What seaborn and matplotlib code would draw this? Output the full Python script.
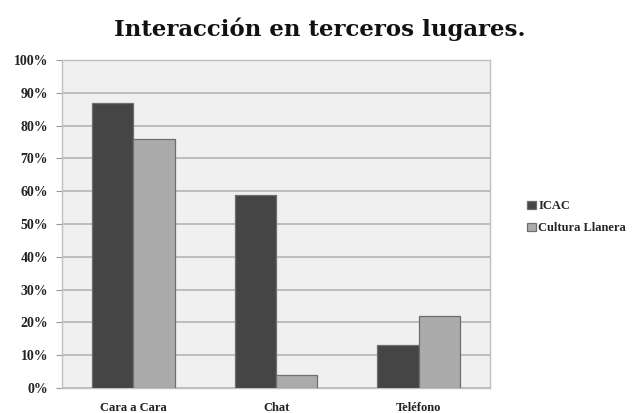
import numpy as np
import pandas as pd
import matplotlib
matplotlib.use("Agg")
import matplotlib.pyplot as plt
import seaborn as sns

categories = ["Cara a Cara", "Chat", "Teléfono"]
icac = [87, 59, 13]
cultura = [76, 4, 22]
series = ["ICAC", "Cultura Llanera"]
yticks = [0, 10, 20, 30, 40, 50, 60, 70, 80, 90, 100]

df = pd.DataFrame({
    "cat": categories * 2,
    "val": icac + cultura,
    "serie": [series[0]] * 3 + [series[1]] * 3,
})

sns.set_style("white")
plt.rcParams["font.family"] = ["Liberation Serif", "DejaVu Serif"]

fig = plt.figure(figsize=(6.34, 4.13), dpi=100)
ax = fig.add_axes([0.098, 0.0605, 0.675, 0.794])
ax.set_facecolor("#f0f0f0")

sns.barplot(data=df, x="cat", y="val", hue="serie", ax=ax,
            palette=["#454545", "#ababab"], width=0.58,
            edgecolor="#6e6e6e", linewidth=0.9, saturation=1, zorder=3)

ax.set_ylim(0, 100)
ax.set_yticks(yticks)
ax.set_yticklabels([f"{t}%" for t in yticks], fontsize=10, fontweight="bold", color="#222222")
ax.tick_params(axis="x", labelsize=9, length=0, pad=10)
for lab in ax.get_xticklabels():
    lab.set_fontweight("bold")
    lab.set_color("#222222")
ax.tick_params(axis="y", length=4, width=0.8, color="#999999", direction="out", left=True, pad=6)
ax.yaxis.grid(True, color="#b5b5b5", linewidth=1.2, zorder=0)
ax.set_axisbelow(True)
ax.set_xlabel("")
ax.set_ylabel("")
for s in ax.spines.values():
    s.set_color("#c0c0c0")
    s.set_linewidth(1.0)

leg = ax.legend(loc="center left", bbox_to_anchor=(1.06, 0.52), frameon=False,
                prop={"size": 9, "weight": "bold"}, handlelength=0.7,
                handleheight=0.7, handletextpad=0.2, labelspacing=0.8)

fig.suptitle("Interacción en terceros lugares.", x=0.505, y=0.958,
             fontsize=16.5, fontweight="bold", color="#111111",
             family=["DejaVu Serif"])

fig.savefig("out.png", dpi=100)
